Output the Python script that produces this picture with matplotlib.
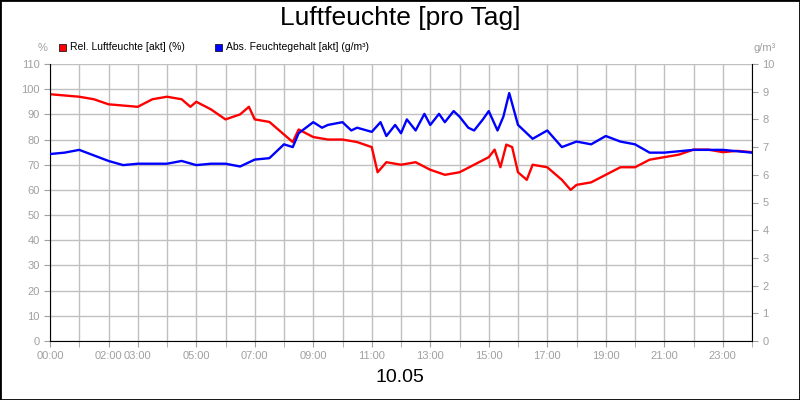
import matplotlib.pyplot as plt
from matplotlib.patches import Rectangle

plt.rcParams['font.family'] = ['Liberation Sans', 'DejaVu Sans']

# relative humidity (%), time in hours
rel_t = [0, 0.5, 1, 1.5, 2, 2.5, 3, 3.5, 4, 4.5, 4.8, 5, 5.5, 6, 6.5, 6.8, 7, 7.5, 8, 8.3, 8.5,
         9, 9.5, 10, 10.5, 11, 11.2, 11.5, 12, 12.5, 13, 13.5, 14, 14.5, 15, 15.2, 15.4, 15.6,
         15.8, 16, 16.3, 16.5, 17, 17.5, 17.8, 18, 18.5, 19, 19.5, 20, 20.5, 21, 21.5, 22, 22.5, 23, 23.5, 24]
rel_v = [98, 97.5, 97, 96, 94, 93.5, 93, 96, 97, 96, 93, 95, 92, 88, 90, 93, 88, 87, 82, 79, 84,
         81, 80, 80, 79, 77, 67, 71, 70, 71, 68, 66, 67, 70, 73, 76, 69, 78,
         77, 67, 64, 70, 69, 64, 60, 62, 63, 66, 69, 69, 72, 73, 74, 76, 76, 75, 75.5, 75]

# absolute humidity (g/m³)
abs_t = [0, 0.5, 1, 1.5, 2, 2.5, 3, 3.5, 4, 4.5, 5, 5.5, 6, 6.5, 7, 7.5, 8, 8.3, 8.5, 9, 9.3,
         9.5, 10, 10.3, 10.5, 11, 11.3, 11.5, 11.8, 12, 12.2, 12.5, 12.8, 13, 13.3, 13.5, 13.8,
         14, 14.3, 14.5, 14.8, 15, 15.3, 15.5, 15.7, 16, 16.5, 17, 17.5, 18, 18.5, 19, 19.5,
         20, 20.5, 21, 21.5, 22, 22.5, 23, 23.5, 24]
abs_v = [6.75, 6.8, 6.9, 6.7, 6.5, 6.35, 6.4, 6.4, 6.4, 6.5, 6.35, 6.4, 6.4, 6.3, 6.55, 6.6, 7.1, 7.0,
         7.5, 7.9, 7.7, 7.8, 7.9, 7.6, 7.7, 7.55, 7.9, 7.4, 7.8, 7.5, 8.0, 7.6, 8.2, 7.8, 8.2, 7.9,
         8.3, 8.1, 7.7, 7.6, 8.0, 8.3, 7.6, 8.1, 8.95, 7.8, 7.3, 7.6, 7.0, 7.2, 7.1, 7.4, 7.2,
         7.1, 6.8, 6.8, 6.85, 6.9, 6.9, 6.9, 6.85, 6.8]

hour_ticks = [0, 2, 3, 5, 7, 9, 11, 13, 15, 17, 19, 21, 23]
grey = '#a0a0a0'

fig = plt.figure(figsize=(8, 4), dpi=100)
fig.patches.append(Rectangle((0, 0), 1, 1, transform=fig.transFigure, fill=False,
                             edgecolor='black', linewidth=2))
ax = fig.add_axes([0.0625, 0.1475, 0.8775, 0.6925])
ax2 = ax.twinx()

ax.plot(rel_t, rel_v, color='#ff0000', linewidth=1.7)
ax2.plot(abs_t, abs_v, color='#0000ff', linewidth=1.7)

ax.set_xlim(0, 24)
ax.set_ylim(0, 110)
ax2.set_ylim(0, 10)
ax.set_yticks(range(0, 111, 10))
ax2.set_yticks(range(0, 11))
ax.set_xticks(range(0, 25), minor=True)
ax.set_xticks(hour_ticks)
ax.set_xticklabels(['%02d:00' % h for h in hour_ticks])
ax.grid(True, which='both', axis='x', color='#c0c0c0', linewidth=1)
ax.grid(True, axis='y', color='#c0c0c0', linewidth=1)
ax.set_axisbelow(True)

for a in (ax, ax2):
    a.tick_params(labelsize=8, labelcolor=grey, color=grey, length=4, which='both')
    a.spines['top'].set_visible(False)
ax2.spines['left'].set_visible(False)
ax2.spines['right'].set_color('black')
ax2.spines['bottom'].set_visible(False)
ax.spines['right'].set_visible(False)

fig.text(0.5, 0.955, 'Luftfeuchte [pro Tag]', ha='center', va='center', fontsize=19)
fig.text(0.5, 0.055, '10.05', ha='center', va='center', fontsize=14)
fig.text(0.053, 0.88, '%', ha='center', va='center', fontsize=8, color=grey)
fig.text(0.956, 0.88, 'g/m³', ha='center', va='center', fontsize=8, color=grey)

fig.patches.append(Rectangle((0.074, 0.873), 0.009, 0.018, transform=fig.transFigure,
                             facecolor='#ff0000', edgecolor='black', linewidth=0.5))
fig.text(0.087, 0.882, 'Rel. Luftfeuchte [akt] (%)', va='center', fontsize=7.5)
fig.patches.append(Rectangle((0.269, 0.873), 0.009, 0.018, transform=fig.transFigure,
                             facecolor='#0000ff', edgecolor='black', linewidth=0.5))
fig.text(0.282, 0.882, 'Abs. Feuchtegehalt [akt] (g/m³)', va='center', fontsize=7.5)

fig.savefig('out.png', dpi=100)
